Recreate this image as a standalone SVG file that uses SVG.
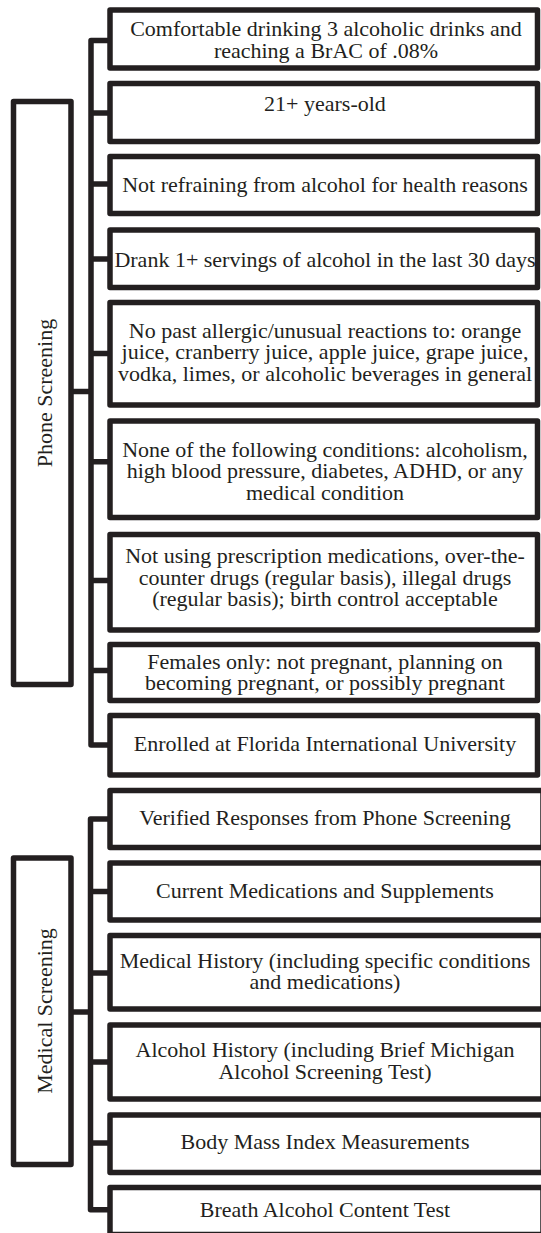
<svg xmlns="http://www.w3.org/2000/svg" width="541" height="1233" viewBox="0 0 541 1233">
<style>
.box{fill:#fff;stroke:#231f20;stroke-width:5.5;stroke-linejoin:round}
.con{fill:none;stroke:#231f20;stroke-width:5.5;stroke-linejoin:round}
text{font-family:"Liberation Serif","Times New Roman",serif;font-size:22px;fill:#231f20;text-anchor:middle}
</style>
<rect width="541" height="1233" fill="#fff"/>
<g id="connectors">
<path class="con" d="M110,40.5 H91 V745 H110"/>
<path class="con" d="M91,113 H110 M91,184 H110 M91,259 H110 M91,353.5 H110 M91,461.7 H110 M91,580.5 H110 M91,670.5 H110"/>
<path class="con" d="M71,391.5 H91"/>
<path class="con" d="M110,819 H90.5 V1209.7 H110"/>
<path class="con" d="M90.5,891.5 H110 M90.5,973 H110 M90.5,1062 H110 M90.5,1143 H110"/>
<path class="con" d="M71,1012 H90.5"/>
</g>
<g id="phone-screening">
<rect class="box" x="13.5" y="101.5" width="57.5" height="583"/>
<text transform="translate(52,393) rotate(-90)">Phone Screening</text>
</g>
<g id="p1"><rect class="box" x="110" y="10" width="427.5" height="58"/>
<text x="326" y="36">Comfortable drinking 3 alcoholic drinks and</text><text x="326" y="57.5">reaching a BrAC of .08%</text></g>
<g id="p2"><rect class="box" x="110" y="83.5" width="427.5" height="58"/>
<text x="325" y="111">21+ years-old</text></g>
<g id="p3"><rect class="box" x="110" y="156.5" width="427.5" height="57"/>
<text x="325" y="191.5">Not refraining from alcohol for health reasons</text></g>
<g id="p4"><rect class="box" x="110" y="230" width="427.5" height="57.5"/>
<text x="325" y="266.5">Drank 1+ servings of alcohol in the last 30 days</text></g>
<g id="p5"><rect class="box" x="110" y="302.5" width="427.5" height="102.5"/>
<text x="325" y="337.5">No past allergic/unusual reactions to: orange</text><text x="325" y="359">juice, cranberry juice, apple juice, grape juice,</text><text x="325" y="380.5">vodka, limes, or alcoholic beverages in general</text></g>
<g id="p6"><rect class="box" x="110" y="421" width="427.5" height="96.5"/>
<text x="325" y="457">None of the following conditions: alcoholism,</text><text x="325" y="478.3">high blood pressure, diabetes, ADHD, or any</text><text x="325" y="499.5">medical condition</text></g>
<g id="p7"><rect class="box" x="110" y="534.5" width="427.5" height="95.5"/>
<text x="325" y="563.3">Not using prescription medications, over-the-</text><text x="325" y="584.5">counter drugs (regular basis), illegal drugs</text><text x="325" y="605.7">(regular basis); birth control acceptable</text></g>
<g id="p8"><rect class="box" x="110" y="644.5" width="427.5" height="56"/>
<text x="325" y="668.5">Females only: not pregnant, planning on</text><text x="325" y="690">becoming pregnant, or possibly pregnant</text></g>
<g id="p9"><rect class="box" x="110" y="715.5" width="427.5" height="59.5"/>
<text x="325" y="751">Enrolled at Florida International University</text></g>
<g id="medical-screening">
<rect class="box" x="13.5" y="858" width="57.5" height="306.5"/>
<text transform="translate(52,1011) rotate(-90)">Medical Screening</text>
</g>
<g id="m1"><rect class="box" x="110" y="790.5" width="433" height="57"/>
<text x="325" y="825">Verified Responses from Phone Screening</text></g>
<g id="m2"><rect class="box" x="110" y="863" width="433" height="57"/>
<text x="325" y="897.7">Current Medications and Supplements</text></g>
<g id="m3"><rect class="box" x="110" y="935.5" width="433" height="73.5"/>
<text x="325" y="967.7">Medical History (including specific conditions</text><text x="325" y="989">and medications)</text></g>
<g id="m4"><rect class="box" x="110" y="1025" width="433" height="74"/>
<text x="325" y="1057">Alcohol History (including Brief Michigan</text><text x="325" y="1079">Alcohol Screening Test)</text></g>
<g id="m5"><rect class="box" x="110" y="1115" width="433" height="57.5"/>
<text x="325" y="1149.3">Body Mass Index Measurements</text></g>
<g id="m6"><rect class="box" x="110" y="1187.5" width="433" height="47"/>
<text x="325" y="1216.7">Breath Alcohol Content Test</text></g>
</svg>
